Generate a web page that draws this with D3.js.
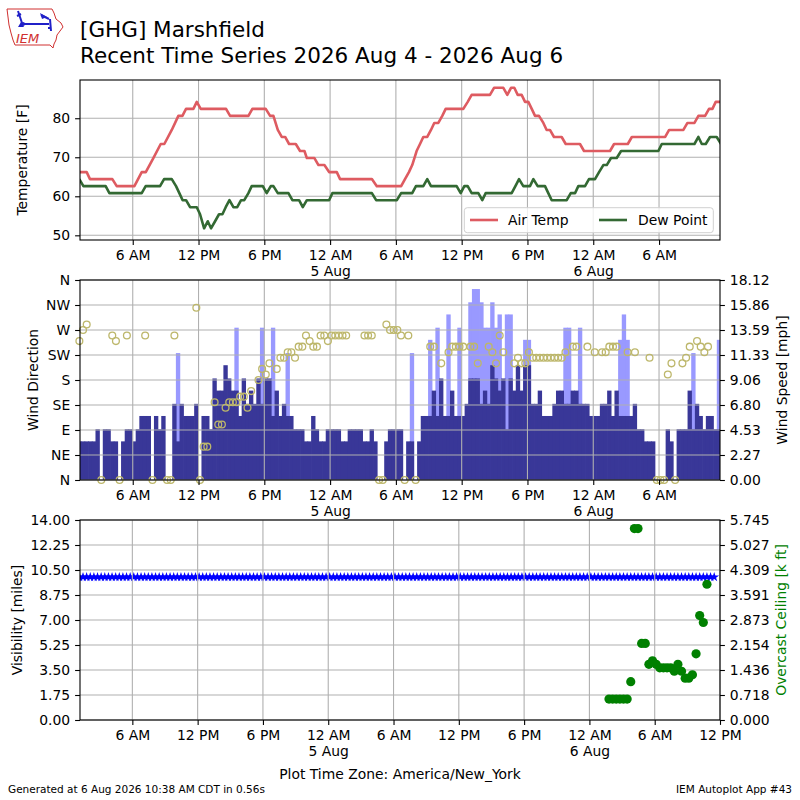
<!DOCTYPE html>
<html>
<head>
<meta charset="utf-8">
<script src="https://cdn.jsdelivr.net/npm/d3@7"></script>
<style>
  body { margin: 0; background: #fff; }
  text { font-family: "DejaVu Sans", sans-serif; }
</style>
</head>
<body>
<div id="chart"></div>
<script>
// time is kept as hours since 4 Aug 00:00 (America/New_York)
// the station reports every 20 minutes, first one at 01:08
var obsStart = 1 + 8 / 60;
var obsStep = 1 / 3;

// air temperature line, vertices [F]
var tempHours = [1.13, 1.80, 2.10, 4.14, 4.54, 6.15, 6.82, 7.19, 7.88, 8.55, 8.88, 9.56, 10.16, 10.53, 10.86, 11.53, 11.84, 12.20,
  14.51, 14.88, 16.55, 16.91, 18.13, 18.53, 18.83, 19.23, 19.59, 19.90, 20.26, 20.87, 21.26, 21.66, 21.88, 22.57, 22.94, 23.48,
  23.91, 24.61, 24.91, 27.81, 28.26, 30.48, 30.83, 31.19, 31.49, 31.89, 32.20, 32.50, 32.86, 33.20, 33.50, 33.87, 34.23, 34.54,
  36.15, 36.55, 36.91, 38.58, 38.95, 39.80, 40.16, 40.50, 40.80, 41.11, 41.47, 41.78, 42.08, 42.39, 42.69, 43.05, 43.45, 43.75,
  44.05, 44.42, 45.12, 45.49, 46.79, 47.16, 49.53, 49.90, 51.15, 51.52, 54.56, 54.92, 56.22, 56.59, 57.23, 57.59, 58.20, 58.56,
  58.87, 59.17, 59.57];
var tempF = [66.2, 66.2, 64.4, 64.4, 62.6, 62.6, 66.2, 66.2, 69.8, 73.4, 73.4, 77.0, 80.6, 80.6, 82.4, 82.4, 84.2, 82.4,
  82.4, 80.6, 80.6, 82.4, 82.4, 80.6, 80.6, 77.0, 75.2, 75.2, 73.4, 73.4, 71.6, 71.6, 69.8, 69.8, 68.0, 68.0,
  66.2, 66.2, 64.4, 64.4, 62.6, 62.6, 64.4, 66.2, 68.0, 71.6, 73.4, 75.2, 75.2, 77.0, 78.8, 78.8, 80.6, 82.4,
  82.4, 84.2, 86.0, 86.0, 87.8, 87.8, 86.0, 87.8, 87.8, 86.0, 86.0, 84.2, 84.2, 82.4, 80.6, 80.6, 78.8, 77.0,
  77.0, 75.2, 75.2, 73.4, 73.4, 71.6, 71.6, 73.4, 73.4, 75.2, 75.2, 77.0, 77.0, 78.8, 78.8, 80.6, 80.6, 82.4,
  82.4, 84.2, 84.2];

// dew point line [F]
var dewHours = [1.13, 1.50, 3.53, 3.87, 6.82, 7.18, 8.49, 8.86, 9.56, 9.95, 10.25, 10.55, 10.86, 11.23, 11.84, 12.14, 12.51, 12.84,
  13.14, 13.51, 13.87, 14.18, 14.48, 14.82, 15.18, 15.53, 15.88, 16.17, 16.55, 16.85, 17.86, 18.22, 18.59, 18.83, 19.23, 20.20,
  20.56, 21.17, 21.51, 21.88, 23.91, 24.21, 27.81, 28.20, 30.09, 30.48, 31.49, 31.83, 32.50, 32.86, 33.20, 35.54, 35.91, 36.24,
  36.55, 36.91, 37.52, 37.88, 38.19, 40.56, 40.90, 41.23, 41.62, 42.23, 42.54, 42.93, 43.60, 43.90, 44.21, 45.58, 45.95, 46.34,
  46.64, 47.25, 47.61, 48.16, 48.53, 48.92, 49.23, 49.62, 50.14, 50.54, 53.94, 54.25, 57.23, 57.59, 57.90, 58.26, 58.65, 59.26,
  59.66];
var dewF = [64.4, 62.6, 62.6, 60.8, 60.8, 62.6, 62.6, 64.4, 64.4, 62.6, 60.8, 59.0, 59.0, 57.2, 57.2, 55.4, 51.8, 53.6,
  51.8, 53.6, 55.4, 55.4, 57.2, 59.0, 57.2, 57.2, 59.0, 59.0, 60.8, 62.6, 62.6, 60.8, 62.6, 62.6, 60.8, 60.8,
  59.0, 59.0, 57.2, 59.0, 59.0, 60.8, 60.8, 59.0, 59.0, 60.8, 60.8, 62.6, 62.6, 64.4, 62.6, 62.6, 60.8, 62.6,
  62.6, 60.8, 60.8, 59.0, 60.8, 60.8, 62.6, 64.4, 62.6, 62.6, 64.4, 62.6, 62.6, 60.8, 59.0, 59.0, 60.8, 60.8,
  62.6, 62.6, 64.4, 64.4, 66.2, 68.0, 68.0, 69.8, 69.8, 71.6, 71.6, 73.4, 73.4, 75.2, 73.4, 73.4, 75.2, 75.2,
  73.4];

// wind speed per report [mph]
var windSpeed = [
  3.5, 3.5, 3.5, 3.5, 3.5, 4.6, 0, 4.6, 4.6, 3.5,
  3.5, 0, 3.5, 4.6, 4.6, 3.5, 4.6, 5.8, 5.8, 5.8,
  0, 5.8, 4.6, 5.8, 0, 0, 6.9, 3.5, 6.9, 5.8,
  5.8, 5.8, 6.9, 0, 5.8, 5.8, 4.6, 9.2, 8.1, 8.1,
  10.4, 9.2, 8.1, 8.1, 5.8, 9.2, 6.9, 8.1, 6.9, 9.2,
  6.9, 9.2, 9.2, 5.8, 8.1, 5.8, 6.9, 5.8, 5.8, 4.6,
  4.6, 4.6, 3.5, 3.5, 5.8, 4.6, 3.5, 3.5, 4.6, 4.6,
  4.6, 4.6, 3.5, 3.5, 4.6, 4.6, 4.6, 4.6, 3.5, 3.5,
  4.6, 3.5, 0, 0, 3.5, 4.6, 4.6, 4.6, 4.6, 0,
  3.5, 3.5, 0, 3.5, 5.8, 5.8, 5.8, 8.1, 5.8, 9.2,
  5.8, 5.8, 8.1, 5.8, 5.8, 5.8, 6.9, 9.2, 9.2, 9.2,
  6.9, 8.1, 6.9, 10.4, 9.2, 8.1, 9.2, 4.6, 9.2, 8.1,
  10.4, 8.1, 10.4, 10.4, 6.9, 6.9, 8.1, 5.8, 5.8, 5.8,
  6.9, 8.1, 8.1, 6.9, 6.9, 8.1, 8.1, 6.9, 6.9, 6.9,
  5.8, 5.8, 5.8, 6.9, 6.9, 8.1, 5.8, 8.1, 5.8, 5.8,
  5.8, 5.8, 6.9, 4.6, 4.6, 3.5, 3.5, 3.5, 0, 0,
  0, 4.6, 3.5, 0, 4.6, 4.6, 4.6, 8.1, 4.6, 6.9,
  5.8, 4.6, 5.8, 5.8, 4.6, 4.6];

// wind direction per report [deg], null where none was plotted
var windDir = [
  250, 270, 280, null, null, null, 0, null, null, 260,
  250, 0, null, 260, null, null, null, null, 260, null,
  0, null, null, null, 0, 0, 260, null, null, null,
  null, null, 310, 0, 60, 60, null, 140, 100, 100,
  130, 140, 140, 140, 150, 150, 130, 160, null, 180,
  200, 190, 210, null, 200, 220, 220, 230, 230, 220,
  240, 240, 260, 250, 240, 240, 260, 260, 250, 260,
  260, 260, 260, 260, null, null, null, null, 260, 260,
  260, null, 0, 0, 280, 270, 270, 270, 260, 0,
  260, null, 0, null, null, null, 240, 240, null, 210,
  null, 230, 240, 240, 240, 240, null, 240, 240, 210,
  null, null, 240, 230, 210, 260, 230, null, null, 210,
  220, 210, 210, 230, 220, 220, 220, 220, 220, 220,
  220, 220, 220, 230, null, 240, 240, null, null, 240,
  null, 230, null, 230, 230, 240, 240, 240, null, null,
  230, null, 230, null, null, null, 220, null, 0, 0,
  0, 190, 210, 0, null, 210, 220, 240, null, 250,
  240, 230, 240, null, null, null];

// gusts: report number and speed [mph]
var gustObs = [27, 43, 50, 53, 57, 91, 96, 98, 101, 104, 107, 108, 109, 110, 111, 112, 113, 114, 115, 117,
  118, 122, 123, 133, 134, 137, 148, 149, 150, 168, 175];
var gustSpeed = [11.5, 13.8, 13.8, 13.8, 11.5, 11.5, 12.7, 13.8, 15.0, 13.8, 16.1, 17.3, 17.3, 16.1, 13.8, 13.8, 16.1, 13.8, 15.0, 15.0,
  15.0, 12.7, 12.7, 13.8, 13.8, 13.8, 12.7, 15.0, 12.7, 11.5, 12.7];

// visibility per report [miles]
var visibility = [
  10, 10, 10, 10, 10, 10, 10, 10, 10, 10, 10, 10, 10, 10, 10, 10, 10, 10, 10, 10,
  10, 10, 10, 10, 10, 10, 10, 10, 10, 10, 10, 10, 10, 10, 10, 10, 10, 10, 10, 10,
  10, 10, 10, 10, 10, 10, 10, 10, 10, 10, 10, 10, 10, 10, 10, 10, 10, 10, 10, 10,
  10, 10, 10, 10, 10, 10, 10, 10, 10, 10, 10, 10, 10, 10, 10, 10, 10, 10, 10, 10,
  10, 10, 10, 10, 10, 10, 10, 10, 10, 10, 10, 10, 10, 10, 10, 10, 10, 10, 10, 10,
  10, 10, 10, 10, 10, 10, 10, 10, 10, 10, 10, 10, 10, 10, 10, 10, 10, 10, 10, 10,
  10, 10, 10, 10, 10, 10, 10, 10, 10, 10, 10, 10, 10, 10, 10, 10, 10, 10, 10, 10,
  10, 10, 10, 10, 10, 10, 10, 10, 10, 10, 10, 10, 10, 10, 10, 10, 10, 10, 10, 10,
  10, 10, 10, 10, 10, 10, 10, 10, 10, 10, 10, 10, 10, 10, 10, 10];

// overcast ceiling: report number and height [k ft]
var ceilingObs = [146, 147, 148, 149, 150, 151, 152, 153, 154, 155, 156, 157, 158, 159, 160, 161, 162, 163, 164, 165,
  166, 167, 168, 169, 170, 171, 172, 173];
var ceilingKft = [0.6, 0.6, 0.6, 0.6, 0.6, 0.6, 1.1, 5.5, 5.5, 2.2, 2.2, 1.6, 1.7, 1.6, 1.5, 1.5, 1.5, 1.5, 1.4, 1.6,
  1.4, 1.2, 1.2, 1.3, 1.9, 3.0, 2.8, 3.9];

// ticks
var tickHours = [6, 12, 18, 24, 30, 36, 42, 48, 54, 60];
var tickLabels = ["6 AM", "12 PM", "6 PM", "12 AM|5 Aug", "6 AM", "12 PM", "6 PM", "12 AM|6 Aug", "6 AM", "12 PM"];
var tempTicks = [50, 60, 70, 80];
var dirTicks = [0, 45, 90, 135, 180, 225, 270, 315, 360];
var dirLabels = ["N", "NE", "E", "SE", "S", "SW", "W", "NW", "N"];
var speedLabels = ["0.00", "2.27", "4.53", "6.80", "9.06", "11.33", "13.59", "15.86", "18.12"];
var visTicks = [0, 1.75, 3.5, 5.25, 7, 8.75, 10.5, 12.25, 14];
var visLabels = ["0.00", "1.75", "3.50", "5.25", "7.00", "8.75", "10.50", "12.25", "14.00"];
var ceilLabels = ["0.000", "0.718", "1.436", "2.154", "2.873", "3.591", "4.309", "5.027", "5.745"];

// ---------------------------------------------------------------
var W = 800, H = 800;
var left = 80, right = 720;
var fontSize = 13.9;

var svg = d3.select("#chart").append("svg").attr("width", W).attr("height", H);
svg.append("rect").attr("width", W).attr("height", H).attr("fill", "#fff");

function obsHour(i) { return obsStart + i * obsStep; }

var x = d3.scaleLinear().domain([1.19, 59.56]).range([left, right]);
var xBot = d3.scaleLinear().domain([1.19, 60]).range([left, right]);

var yTemp = d3.scaleLinear().domain([48.8, 89.8]).range([240, 80]);
var yDir = d3.scaleLinear().domain([0, 360]).range([480, 280]);
var ySpeed = d3.scaleLinear().domain([0, 18.12]).range([480, 280]);
var yVis = d3.scaleLinear().domain([0, 14]).range([720, 520]);
var yCeil = d3.scaleLinear().domain([0, 5.745]).range([720, 520]);

function clip(id, y0, y1) {
  svg.append("clipPath").attr("id", id).append("rect")
    .attr("x", left).attr("y", y0).attr("width", right - left).attr("height", y1 - y0);
}
clip("clipTop", 80, 240);
clip("clipMid", 280, 480);
clip("clipBot", 520, 720);

function styleAxis(a) {
  a.select(".domain").remove();
  a.attr("font-size", fontSize).attr("font-family", "DejaVu Sans");
  a.selectAll(".tick line").attr("stroke-width", 1.1);
}

function xAxis(xs, y, hours) {
  var ax = d3.axisBottom(xs).tickValues(hours).tickSize(4.9).tickPadding(4.9)
    .tickFormat(function (h) { return tickLabels[tickHours.indexOf(h)]; });
  var a = svg.append("g").attr("transform", "translate(0," + y + ")").call(ax);
  styleAxis(a);
  a.selectAll(".tick text").each(function () {
    var t = d3.select(this), parts = t.text().split("|");
    if (parts.length > 1) {
      t.text(null);
      t.append("tspan").attr("x", 0).text(parts[0]);
      t.append("tspan").attr("x", 0).attr("dy", "1.15em").text(parts[1]);
    }
  });
}

function yAxis(scale, ticks, labels, side) {
  var ax = (side === "left" ? d3.axisLeft(scale) : d3.axisRight(scale))
    .tickValues(ticks).tickSize(4.9).tickPadding(4.9)
    .tickFormat(function (d, i) { return labels[i]; });
  var a = svg.append("g").attr("transform", "translate(" + (side === "left" ? left : right) + ",0)").call(ax);
  styleAxis(a);
  return a;
}

function grid(xs, hours, ys, ticks, y0, y1) {
  var g = svg.append("g").attr("stroke", "#b0b0b0").attr("stroke-width", 1.1);
  g.selectAll(null).data(hours).enter().append("line")
    .attr("x1", function (d) { return xs(d); }).attr("x2", function (d) { return xs(d); })
    .attr("y1", y0).attr("y2", y1);
  g.selectAll(null).data(ticks).enter().append("line")
    .attr("x1", left).attr("x2", right)
    .attr("y1", function (d) { return ys(d); }).attr("y2", function (d) { return ys(d); });
}

function frame(y0, y1) {
  svg.append("rect").attr("x", left).attr("y", y0).attr("width", right - left).attr("height", y1 - y0)
    .attr("fill", "none").attr("stroke", "#000").attr("stroke-width", 1.1);
}

function yLabel(txt, xPos, yMid, color) {
  svg.append("text").attr("transform", "translate(" + xPos + "," + yMid + ") rotate(-90)")
    .attr("text-anchor", "middle").attr("font-size", fontSize).attr("fill", color || "#000").text(txt);
}

var topHours = tickHours.filter(function (h) { return h <= 59.56; });

// ---------------- header ----------------
var logo = svg.append("g");
logo.append("path")
  .attr("d", "M7,9 L52,9 L54,13 L56,19 L61,23 L63,27 L60,31 L57,35 L56,40 L54,44 L53,48 L50,45 L15,45 L13,40 L11,33 L9,25 L8,17 Z")
  .attr("fill", "none").attr("stroke", "#d03030").attr("stroke-width", 1);
logo.append("text").attr("x", 16).attr("y", 43).attr("font-family", "DejaVu Serif").attr("font-style", "italic")
  .attr("font-size", 13).attr("fill", "#d03030").text("IEM");
logo.append("path").attr("d", "M21,24 L49,24 M18,11 L22,23 M17,16 L21,14 M41,15 L49,19 M50,19 L51,31 M48,28 L51,28")
  .attr("fill", "none").attr("stroke", "#2020c8").attr("stroke-width", 2);
logo.append("path").attr("d", "M40,13 L47,17 L42,19 Z").attr("fill", "#2020c8");
logo.append("circle").attr("cx", 23).attr("cy", 24).attr("r", 2).attr("fill", "#2020c8");
logo.append("path").attr("d", "M18,27 L21,22 L24,27 Z").attr("fill", "#2020c8");

svg.append("text").attr("x", 80).attr("y", 36.5).attr("font-size", 21.5).text("[GHG] Marshfield");
svg.append("text").attr("x", 80).attr("y", 63.3).attr("font-size", 21.5).text("Recent Time Series 2026 Aug 4 - 2026 Aug 6");

// ---------------- temperature panel ----------------
grid(x, topHours, yTemp, tempTicks, 80, 240);

var tempLine = d3.line().x(function (d) { return x(d[0]); }).y(function (d) { return yTemp(d[1]); });
var gTop = svg.append("g").attr("clip-path", "url(#clipTop)");
gTop.append("path").datum(d3.zip(tempHours, tempF)).attr("d", tempLine)
  .attr("fill", "none").attr("stroke", "#de5b61").attr("stroke-width", 2.6).attr("stroke-linejoin", "round");
gTop.append("path").datum(d3.zip(dewHours, dewF)).attr("d", tempLine)
  .attr("fill", "none").attr("stroke", "#336933").attr("stroke-width", 2.6).attr("stroke-linejoin", "round");

var legend = svg.append("g");
legend.append("rect").attr("x", 464.3).attr("y", 207.7).attr("width", 249).attr("height", 25).attr("rx", 3)
  .attr("fill", "#fff").attr("fill-opacity", 0.8).attr("stroke", "#d0d0d0");
legend.append("line").attr("x1", 470).attr("x2", 498).attr("y1", 220).attr("y2", 220)
  .attr("stroke", "#de5b61").attr("stroke-width", 2.6);
legend.append("text").attr("x", 508).attr("y", 225).attr("font-size", fontSize).text("Air Temp");
legend.append("line").attr("x1", 599).attr("x2", 627).attr("y1", 220).attr("y2", 220)
  .attr("stroke", "#336933").attr("stroke-width", 2.6);
legend.append("text").attr("x", 638).attr("y", 225).attr("font-size", fontSize).text("Dew Point");

frame(80, 240);
xAxis(x, 240, topHours);
yAxis(yTemp, tempTicks, tempTicks.map(String), "left");
yLabel("Temperature [F]", 27, 160);

// ---------------- wind panel ----------------
// bars overlap a little so neighbouring reports render without hairline seams
var barW = x(obsStep) - x(0);
var gMid = svg.append("g").attr("clip-path", "url(#clipMid)");
gMid.selectAll(".gust").data(d3.zip(gustObs, gustSpeed)).enter().append("rect")
  .attr("x", function (d) { return x(obsHour(d[0])) - barW / 2 - 0.35; })
  .attr("width", barW + 0.7)
  .attr("y", function (d) { return ySpeed(d[1]); })
  .attr("height", function (d) { return ySpeed(0) - ySpeed(d[1]); })
  .attr("fill", "#9999ff");
gMid.selectAll(".wind").data(windSpeed).enter().append("rect")
  .attr("x", function (d, i) { return x(obsHour(i)) - barW / 2 - 0.35; })
  .attr("width", barW + 0.7)
  .attr("y", function (d) { return ySpeed(d); })
  .attr("height", function (d) { return ySpeed(0) - ySpeed(d); })
  .attr("fill", "#393798");

grid(x, topHours, yDir, dirTicks, 280, 480);

svg.append("g").selectAll("circle")
  .data(windDir.map(function (d, i) { return [obsHour(i), d]; }).filter(function (d) { return d[1] !== null; }))
  .enter().append("circle")
  .attr("cx", function (d) { return x(d[0]); })
  .attr("cy", function (d) { return yDir(d[1]); })
  .attr("r", 3.4).attr("fill", "none").attr("stroke", "#bdb76b").attr("stroke-width", 1.3);

frame(280, 480);
xAxis(x, 480, topHours);
yAxis(yDir, dirTicks, dirLabels, "left");
yAxis(ySpeed, dirTicks.map(function (d) { return d / 360 * 18.12; }), speedLabels, "right");
yLabel("Wind Direction", 38, 380);
yLabel("Wind Speed [mph]", 787, 380);

// ---------------- visibility / ceiling panel ----------------
var gBot = svg.append("g").attr("clip-path", "url(#clipBot)");
var visPts = visibility.map(function (v, i) { return [obsHour(i), v]; });
gBot.append("path").datum(visPts)
  .attr("d", d3.line().x(function (d) { return xBot(d[0]); }).y(function (d) { return yVis(d[1]); }))
  .attr("fill", "none").attr("stroke", "#0000ff").attr("stroke-width", 1.5);
var star = d3.symbol().type(d3.symbolStar).size(30);
gBot.selectAll(".vis").data(visPts).enter().append("path")
  .attr("transform", function (d) { return "translate(" + xBot(d[0]) + "," + yVis(d[1]) + ")"; })
  .attr("d", star).attr("fill", "#0000ff");

grid(xBot, tickHours, yVis, visTicks, 520, 720);

svg.append("g").selectAll("circle").data(d3.zip(ceilingObs, ceilingKft)).enter().append("circle")
  .attr("cx", function (d) { return xBot(obsHour(d[0])); })
  .attr("cy", function (d) { return yCeil(d[1]); })
  .attr("r", 4.6).attr("fill", "#008000");

frame(520, 720);
xAxis(xBot, 720, tickHours);
yAxis(yVis, visTicks, visLabels, "left");
yAxis(yCeil, visTicks.map(function (d) { return d / 14 * 5.745; }), ceilLabels, "right");
yLabel("Visibility [miles]", 22, 620);
yLabel("Overcast Ceiling [k ft]", 786, 620, "#008000");

// ---------------- footer ----------------
svg.append("text").attr("x", 400).attr("y", 779).attr("text-anchor", "middle").attr("font-size", fontSize)
  .text("Plot Time Zone: America/New_York");
svg.append("text").attr("x", 8).attr("y", 793).attr("font-size", 10.5)
  .text("Generated at 6 Aug 2026 10:38 AM CDT in 0.56s");
svg.append("text").attr("x", 792).attr("y", 793).attr("text-anchor", "end").attr("font-size", 10.5)
  .text("IEM Autoplot App #43");
</script>
</body>
</html>
